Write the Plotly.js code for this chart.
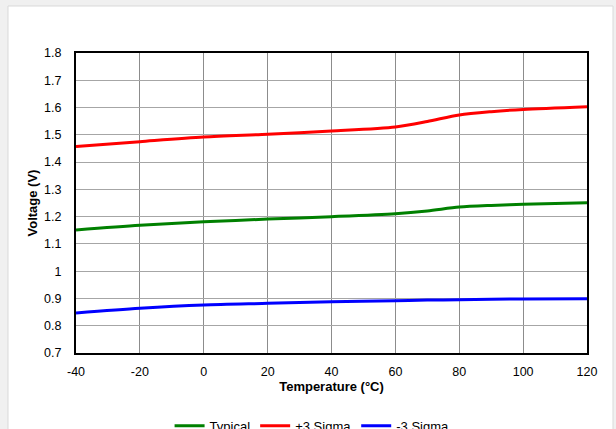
<!DOCTYPE html>
<html>
<head>
<meta charset="utf-8">
<script src="https://cdn.plot.ly/plotly-3.0.1.min.js"></script>
<style>
  html, body { margin: 0; padding: 0; background: #f0f0f0; }
  #chart { width: 616px; height: 429px; }
</style>
</head>
<body>
<div id="chart"></div>
<script>
// Data
var temperatureC = [-40, -20, 0, 20, 40, 60, 70, 80, 90, 100, 120];
var typicalV    = [1.151, 1.168, 1.181, 1.191, 1.200, 1.211, 1.221, 1.235, 1.241, 1.245, 1.251];
var plus3SigmaV = [1.457, 1.475, 1.492, 1.502, 1.514, 1.529, 1.549, 1.573, 1.585, 1.593, 1.603];
var minus3SigmaV= [0.847, 0.864, 0.876, 0.882, 0.888, 0.892, 0.894, 0.895, 0.897, 0.898, 0.899];

var seriesNames = ['Typical', '+3 Sigma', '-3 Sigma'];
var xTickVals = [-40, -20, 0, 20, 40, 60, 80, 100, 120];
var xTickText = ['-40', '-20', '0', '20', '40', '60', '80', '100', '120'];
var yTickVals = [0.7, 0.8, 0.9, 1.0, 1.1, 1.2, 1.3, 1.4, 1.5, 1.6, 1.7, 1.8];
var yTickText = ['0.7', '0.8', '0.9', '1', '1.1', '1.2', '1.3', '1.4', '1.5', '1.6', '1.7', '1.8'];

var FONT = 'Liberation Sans, Arial, sans-serif';

function lineTrace(y, name, color) {
  return {
    x: temperatureC, y: y, name: name, type: 'scatter', mode: 'lines',
    line: { color: color, width: 3, shape: 'spline', smoothing: 0.8 },
    hoverinfo: 'skip'
  };
}

var data = [
  lineTrace(typicalV, seriesNames[0], '#008000'),
  lineTrace(plus3SigmaV, seriesNames[1], '#ff0000'),
  lineTrace(minus3SigmaV, seriesNames[2], '#0000ff')
];

var layout = {
  width: 616, height: 429,
  paper_bgcolor: '#f0f0f0',
  plot_bgcolor: '#ffffff',
  margin: { l: 76, r: 29, t: 53, b: 76, pad: 0, autoexpand: false },
  font: { family: FONT, size: 12, color: '#000000' },
  showlegend: true,
  legend: {
    orientation: 'h', x: 0.462, xanchor: 'center', y: -0.243, yanchor: 'middle',
    font: { family: FONT, size: 13, color: '#000000' },
    bgcolor: 'rgba(0,0,0,0)', itemwidth: 30, traceorder: 'normal'
  },
  xaxis: {
    range: [-40, 120], tickvals: xTickVals, ticktext: xTickText,
    showgrid: true, gridcolor: '#8c8c8c', gridwidth: 1,
    zeroline: false, showline: true, mirror: true, linecolor: '#000000', linewidth: 2,
    ticks: '', ticklabelstandoff: 6,
    tickfont: { family: FONT, size: 12.5, color: '#000000' },
    title: { text: '<b>Temperature (°C)</b>', font: { family: FONT, size: 13, color: '#000000' }, standoff: 4 }
  },
  yaxis: {
    range: [0.7, 1.8], tickvals: yTickVals, ticktext: yTickText,
    showgrid: true, gridcolor: '#a6a6a6', gridwidth: 1,
    zeroline: false, showline: true, mirror: true, linecolor: '#000000', linewidth: 2,
    ticks: '', ticklabelstandoff: 10,
    tickfont: { family: FONT, size: 12.5, color: '#000000' },
    title: { text: '<b>Voltage (V)</b>', font: { family: FONT, size: 13, color: '#000000' }, standoff: 4 }
  },
  shapes: [{
    type: 'rect', xref: 'paper', yref: 'paper', layer: 'below',
    x0: (8 - 76) / 511, x1: (613 - 76) / 511,
    y0: (353 - 440) / 300, y1: (353 - 6) / 300,
    fillcolor: '#ffffff', line: { color: '#d9d9d9', width: 1 }
  }]
};

Plotly.newPlot('chart', data, layout, { displayModeBar: false, staticPlot: true });
</script>
</body>
</html>
